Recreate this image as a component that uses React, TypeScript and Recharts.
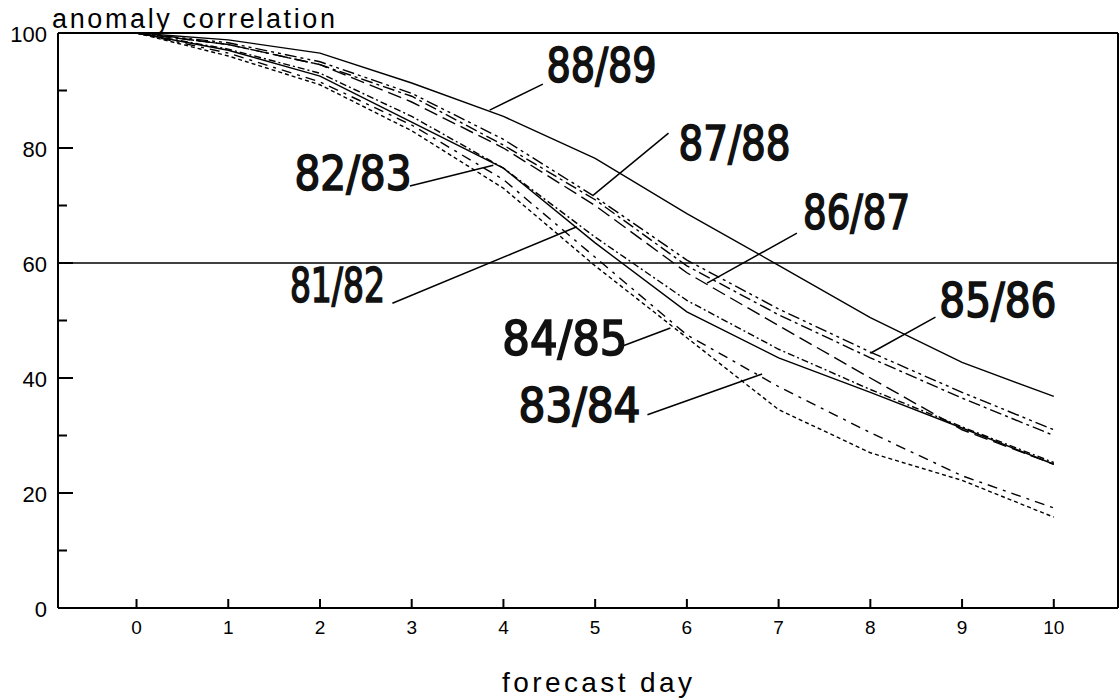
import { LineChart, Line, XAxis, YAxis, ReferenceLine, ReferenceDot } from 'recharts';

// forecast days and anomaly correlation (%) per winter season
const days = [0, 1, 2, 3, 4, 5, 6, 7, 8, 9, 10];
const s8182 = [100, 97, 92.5, 84.5, 76.5, 63.5, 51.5, 43.5, 37.5, 31.3, 25];
const s8283 = [100, 97.2, 93, 85.5, 76.5, 64.5, 53.5, 45, 38, 31.5, 25.3];
const s8384 = [100, 96, 91, 83, 73, 59.5, 47, 34.5, 27, 22.2, 15.8];
const s8485 = [100, 96.5, 91.5, 84, 74.5, 61, 47.5, 38.5, 30.5, 23, 17.4];
const s8586 = [100, 98.3, 95, 89.5, 81.5, 71.5, 60.5, 52, 44.5, 37.5, 31];
const s8687 = [100, 98, 94.5, 89, 80.5, 71, 59.5, 51, 43.5, 36.5, 30];
const s8788 = [100, 98, 94.5, 88, 80, 70, 58.3, 49.1, 40, 31, 25];
const s8889 = [100, 98.8, 96.5, 91.3, 85.5, 78.2, 68.6, 59.6, 50.5, 42.7, 36.8];

const xTicks = [0, 1, 2, 3, 4, 5, 6, 7, 8, 9, 10];
const yTicks = [0, 10, 20, 30, 40, 50, 60, 70, 80, 90, 100];

// handwritten season labels and their pointer lines
const labelNames = ['88/89', '87/88', '86/87', '85/86', '82/83', '81/82', '84/85', '83/84'];
const labelX = [5.07, 6.52, 7.85, 9.39, 2.36, 2.19, 4.67, 4.83];
const labelY = [94.4, 80.9, 68.9, 53.6, 75.7, 56.2, 47.0, 35.3];
const labelW = [110, 112, 107, 117, 117, 95, 125, 122];
const pointerFrom = [
  [4.43, 91.1], [5.8, 82.6], [7.2, 65.2], [8.71, 50.6],
  [2.98, 73.4], [2.79, 53.0], [5.27, 45.4], [5.57, 33.6],
];
const pointerTo = [
  [3.85, 86.6], [4.98, 71.8], [6.22, 56.5], [8.0, 44.3],
  [3.89, 77.0], [4.8, 66.3], [5.82, 48.7], [6.82, 40.7],
];

const series = [
  { key: '81/82', values: s8182, dash: undefined },
  { key: '82/83', values: s8283, dash: '7 3 2 3' },
  { key: '83/84', values: s8384, dash: '4 3' },
  { key: '84/85', values: s8485, dash: '10 6 3 6' },
  { key: '85/86', values: s8586, dash: '12 4 3 4 3 4' },
  { key: '86/87', values: s8687, dash: '12 4 3 4' },
  { key: '87/88', values: s8788, dash: '14 6' },
  { key: '88/89', values: s8889, dash: undefined },
];

const data = days.map((d, i) => {
  const row: Record<string, number> = { day: d };
  series.forEach((s) => {
    row[s.key] = s.values[i];
  });
  return row;
});

const FONT = '"Liberation Sans", Arial, sans-serif';
const X_MIN = -0.856;
const X_MAX = 10.7;

function YTick(props: any) {
  const { x, y, payload } = props;
  const v = payload.value;
  const major = v % 20 === 0;
  return (
    <g>
      {v > 0 && v < 100 && (
        <line x1={x} y1={y} x2={x + (major ? 15 : 9)} y2={y} stroke="#000" strokeWidth={2} />
      )}
      {major && (
        <text x={x - 11} y={y + 1} textAnchor="end" dominantBaseline="central" fontFamily={FONT} fontSize={22} fill="#000">
          {v}
        </text>
      )}
    </g>
  );
}

function XTick(props: any) {
  const { x, y, payload } = props;
  return (
    <g>
      <line x1={x} y1={y} x2={x} y2={y - 9} stroke="#000" strokeWidth={2} />
      <text x={x} y={y + 26} textAnchor="middle" fontFamily={FONT} fontSize={19} fill="#000">
        {payload.value}
      </text>
    </g>
  );
}

export default function App() {
  return (
    <div style={{ position: 'absolute', left: 0, top: 0, width: 1120, height: 700, background: '#fff' }}>
      <LineChart
        width={1120}
        height={700}
        data={data}
        margin={{ top: 33, right: 2, left: 0, bottom: 0 }}
      >
        <XAxis
          dataKey="day"
          type="number"
          domain={[X_MIN, X_MAX]}
          ticks={xTicks}
          allowDataOverflow
          height={92}
          tickSize={0}
          tickMargin={0}
          tickLine={false}
          axisLine={{ stroke: '#000', strokeWidth: 2 }}
          tick={<XTick />}
          label={{
            content: () => (
              <text x={502} y={692} textLength={190} lengthAdjust="spacing" fontFamily={FONT} fontSize={28} fill="#000">
                forecast day
              </text>
            ),
          }}
        />
        <YAxis
          type="number"
          domain={[0, 100]}
          ticks={yTicks}
          interval={0}
          width={58}
          tickSize={0}
          tickMargin={0}
          tickLine={false}
          axisLine={{ stroke: '#000', strokeWidth: 2 }}
          tick={<YTick />}
          label={{
            content: () => (
              <text x={52} y={28} textLength={283} lengthAdjust="spacing" fontFamily={FONT} fontSize={27} fill="#000">
                anomaly correlation
              </text>
            ),
          }}
        />
        <ReferenceLine y={100} stroke="#000" strokeWidth={2} />
        <ReferenceLine x={X_MAX} stroke="#000" strokeWidth={2} />
        <ReferenceLine y={60} stroke="#000" strokeWidth={1.5} />
        {series.map((s) => (
          <Line
            key={s.key}
            dataKey={s.key}
            type="linear"
            stroke="#000"
            strokeWidth={1.4}
            strokeDasharray={s.dash}
            dot={false}
            activeDot={false}
            isAnimationActive={false}
          />
        ))}
        {labelNames.map((name, i) => (
          <ReferenceLine
            key={'p' + name}
            segment={[
              { x: pointerFrom[i][0], y: pointerFrom[i][1] },
              { x: pointerTo[i][0], y: pointerTo[i][1] },
            ]}
            stroke="#000"
            strokeWidth={1.5}
          />
        ))}
        {labelNames.map((name, i) => (
          <ReferenceDot
            key={'l' + name}
            x={labelX[i]}
            y={labelY[i]}
            r={0}
            shape={(p: any) => (
              <text
                x={p.cx}
                y={p.cy}
                textAnchor="middle"
                dominantBaseline="central"
                textLength={labelW[i]}
                lengthAdjust="spacingAndGlyphs"
                fontFamily='"Liberation Sans Narrow", "DejaVu Sans Condensed", sans-serif'
                fontWeight={400}
                fontSize={48}
                fill="#111"
                stroke="#111"
                strokeWidth={1.6}
              >
                {name}
              </text>
            )}
          />
        ))}
      </LineChart>
    </div>
  );
}
